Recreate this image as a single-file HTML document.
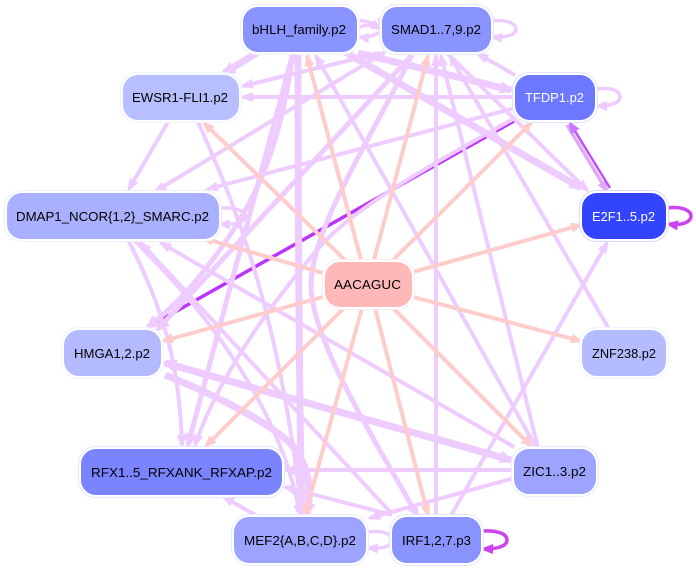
<!DOCTYPE html>
<html>
<head>
<meta charset="utf-8">
<style>
html,body{margin:0;padding:0;background:#fff}
svg{display:block}
text{font-family:"Liberation Sans",sans-serif;font-size:13px;text-anchor:middle}
.l{stroke:#eeccff;fill:none;stroke-width:4;marker-end:url(#al)}
.s{stroke:#eeccff;fill:none;stroke-width:3.500;marker-end:url(#al)}
.m{stroke:#eeccff;fill:none;stroke-width:5;marker-end:url(#alb)}
.t{stroke:#eeccff;fill:none;stroke-width:7;marker-end:url(#alb)}
.p{stroke:#ffcccc;fill:none;stroke-width:4;marker-end:url(#ap)}
</style>
</head>
<body>
<svg width="696" height="569" viewBox="0 0 696 569" xmlns="http://www.w3.org/2000/svg">
<defs>
<marker id="al" markerUnits="userSpaceOnUse" markerWidth="13" markerHeight="11" refX="10" refY="5.500" orient="auto"><path d="M0,0.500L13,5.500L0,10.500z" fill="#eeccff"/></marker>
<marker id="alb" markerUnits="userSpaceOnUse" markerWidth="15" markerHeight="13" refX="11" refY="6.500" orient="auto"><path d="M0,0L15,6.500L0,13z" fill="#eeccff"/></marker>
<marker id="ap" markerUnits="userSpaceOnUse" markerWidth="13" markerHeight="11" refX="10" refY="5.500" orient="auto"><path d="M0,0.500L13,5.500L0,10.500z" fill="#ffcccc"/></marker>
<marker id="au" markerUnits="userSpaceOnUse" markerWidth="13" markerHeight="11" refX="10" refY="5.500" orient="auto"><path d="M0,0.500L13,5.500L0,10.500z" fill="#bb33ff"/></marker>
<marker id="am" markerUnits="userSpaceOnUse" markerWidth="13" markerHeight="11" refX="10" refY="5.500" orient="auto"><path d="M0,0.500L13,5.500L0,10.500z" fill="#ddaaf5"/></marker>
<marker id="an" markerUnits="userSpaceOnUse" markerWidth="13" markerHeight="11" refX="10" refY="5.500" orient="auto"><path d="M0,0.500L13,5.500L0,10.500z" fill="#cc77ff"/></marker>
<marker id="ad" markerUnits="userSpaceOnUse" markerWidth="13" markerHeight="11" refX="10" refY="5.500" orient="auto"><path d="M0,0.500L13,5.500L0,10.500z" fill="#cc44f0"/></marker>
</defs>

<!-- dark edge -->
<path d="M514,121L150,326" stroke="#bb33ff" stroke-width="3.500" fill="none" marker-end="url(#au)"/>

<!-- lavender edges -->
<path class="t" d="M257,53L224,73"/>
<path class="l" d="M380,53L243,86"/>
<path class="l" d="M515,97L243,97"/>
<path class="l" d="M515,108L208,189"/>
<path class="l" d="M385,52L156,191"/>
<path class="l" d="M168,122L129,189"/>
<path class="t" d="M345,52L581,188"/>
<path class="t" d="M358,53L511,90"/>
<path class="l" d="M511,90L360,54"/>
<path class="l" d="M448,54L587,190"/>
<path class="l" d="M515,75L478,54"/>
<path class="l" d="M609,329L450,56"/>
<path class="l" d="M538,448L441,56"/>
<path class="l" d="M436,517L436,56"/>
<path class="l" d="M537,449L316,56"/>
<path class="l" d="M450,517L607,243"/>
<path class="t" d="M298,53C298,180 299,400 302,515"/>
<path class="m" d="M293,53C280,150 255,205 210,263C190,290 170,310 148,327"/>
<path class="m" d="M412,55L158,329"/>
<path class="m" d="M293,53L188,445"/>
<path class="l" d="M515,118C430,165 350,210 317,250C290,282 225,360 195,445"/>
<path class="m" d="M412,55C370,140 311,230 311,285C311,340 375,440 417,515"/>
<path class="l" d="M128,240C170,320 180,380 182,445"/>
<path class="l" d="M392,514L141,243"/>
<path class="l" d="M514,447L161,243"/>
<path class="l" d="M134,240C195,300 280,400 300,515"/>
<path class="l" d="M198,122C240,215 280,320 302,515"/>
<path class="t" d="M165,363L511,460"/>
<path class="t" d="M511,460L165,363"/>
<path class="t" d="M165,375C215,395 265,420 290,443C310,465 312,490 307,514"/>
<path class="l" d="M514,470L285,470"/>
<path class="l" d="M392,515L285,487"/>
<path class="l" d="M257,516L224,497"/>
<path class="l" d="M514,478L370,518"/>

<!-- pink edges -->
<path class="p" d="M361,260L307,56"/>
<path class="p" d="M374,260L428,56"/>
<path class="p" d="M345,260L204,123"/>
<path class="p" d="M393,260L531,123"/>
<path class="p" d="M413,272L581,225"/>
<path class="p" d="M323,273L203,238"/>
<path class="p" d="M323,297L163,341"/>
<path class="p" d="M413,297L581,341"/>
<path class="p" d="M344,308L206,446"/>
<path class="p" d="M393,308L531,446"/>
<path class="p" d="M362,308L305,515"/>
<path class="p" d="M375,308L428,515"/>

<!-- TFDP1 / E2F1 pair -->
<path d="M567,125L607,191" stroke="#ddaaf5" stroke-width="3.500" fill="none" marker-end="url(#am)"/>
<path d="M610,188L570,123" stroke="#c050ff" stroke-width="2.500" fill="none" marker-end="url(#an)"/>

<!-- self loops -->
<path class="s" d="M358,20C372,22 382,26 382,28"/>
<path class="s" d="M358,28C366,24 374,25 381,29"/>
<path class="s" d="M381,30C378,35 368,38 359,37"/>
<path class="s" d="M491,21C508,19 516,24 516,29C516,35 505,38 492,37"/>
<path class="s" d="M596,89C612,87 620,91 620,97C620,103 610,106 597,106"/>
<path class="s" d="M219,208C236,207 245,211 245,216C245,222 236,225 220,224"/>
<path class="s" d="M367,532C383,530 392,534 392,540C392,546 383,549 368,548"/>
<path d="M667,208C683,206 691,211 691,216C691,222 682,226 668,224" stroke="#cc44f0" stroke-width="3.500" fill="none" marker-end="url(#ad)"/>
<path d="M482,531C498,530 507,534 507,540C507,546 498,549 483,549" stroke="#cc44f0" stroke-width="3.500" fill="none" marker-end="url(#ad)"/>

<!-- nodes -->
<g stroke-width="1" fill="#fff">
<rect x="240.500" y="4.500" width="119" height="50" rx="17" stroke="#eeeeff"/>
<rect x="379.500" y="4.500" width="114" height="50" rx="17" stroke="#e4e6ff"/>
<rect x="120.500" y="72.500" width="121" height="50" rx="17" stroke="#f1f2ff"/>
<rect x="512.500" y="72.500" width="85" height="50" rx="17" stroke="#dfe2ff"/>
<rect x="579.500" y="190.500" width="89" height="51" rx="17" stroke="#d6daff"/>
<rect x="4.500" y="190.500" width="217" height="51" rx="17" stroke="#eeeeff"/>
<rect x="322.500" y="259.500" width="92" height="50" rx="17" stroke="#ffeeee"/>
<rect x="61.500" y="327.500" width="102" height="51" rx="17" stroke="#f1f2ff"/>
<rect x="579.500" y="327.500" width="89" height="51" rx="17" stroke="#f1f2ff"/>
<rect x="78.500" y="446.500" width="206" height="51" rx="17" stroke="#e4e6ff"/>
<rect x="511.500" y="446.500" width="87" height="50" rx="17" stroke="#e9ebff"/>
<rect x="231.500" y="514.500" width="137" height="51" rx="17" stroke="#e9ebff"/>
<rect x="389.500" y="514.500" width="94" height="51" rx="17" stroke="#e4e6ff"/>
</g>
<rect x="243" y="7" width="114" height="45" rx="15" fill="#8a94ff"/>
<rect x="382" y="7" width="109" height="45" rx="15" fill="#8a94ff"/>
<rect x="123" y="75" width="116" height="45" rx="15" fill="#b6bfff"/>
<rect x="515" y="75" width="80" height="45" rx="15" fill="#6b78ff"/>
<rect x="582" y="193" width="84" height="46" rx="15" fill="#3344ff"/>
<rect x="7" y="193" width="212" height="46" rx="15" fill="#a8b0ff"/>
<rect x="325" y="262" width="87" height="45" rx="15" fill="#ffb8b8"/>
<rect x="64" y="330" width="97" height="46" rx="15" fill="#b4baff"/>
<rect x="582" y="330" width="84" height="46" rx="15" fill="#b4bcff"/>
<rect x="81" y="449" width="201" height="46" rx="15" fill="#7a84ff"/>
<rect x="514" y="449" width="82" height="45" rx="15" fill="#9ca4ff"/>
<rect x="234" y="517" width="132" height="46" rx="15" fill="#9ca4ff"/>
<rect x="392" y="517" width="89" height="46" rx="15" fill="#8a94ff"/>

<text x="299" y="34" textLength="94" lengthAdjust="spacingAndGlyphs">bHLH_family.p2</text>
<text x="436" y="34" textLength="90" lengthAdjust="spacingAndGlyphs">SMAD1..7,9.p2</text>
<text x="180" y="102" textLength="96" lengthAdjust="spacingAndGlyphs">EWSR1-FLI1.p2</text>
<text x="554.500" y="102" fill="#fff" textLength="59" lengthAdjust="spacingAndGlyphs">TFDP1.p2</text>
<text x="623.500" y="221" fill="#fff" textLength="63" lengthAdjust="spacingAndGlyphs">E2F1..5.p2</text>
<text x="112.500" y="221" textLength="193" lengthAdjust="spacingAndGlyphs">DMAP1_NCOR{1,2}_SMARC.p2</text>
<text x="367.500" y="289" textLength="67" lengthAdjust="spacingAndGlyphs">AACAGUC</text>
<text x="112" y="358" textLength="76" lengthAdjust="spacingAndGlyphs">HMGA1,2.p2</text>
<text x="624" y="358" textLength="64" lengthAdjust="spacingAndGlyphs">ZNF238.p2</text>
<text x="181.500" y="477" textLength="181" lengthAdjust="spacingAndGlyphs">RFX1..5_RFXANK_RFXAP.p2</text>
<text x="554.500" y="476" textLength="63" lengthAdjust="spacingAndGlyphs">ZIC1..3.p2</text>
<text x="300" y="545" textLength="112" lengthAdjust="spacingAndGlyphs">MEF2{A,B,C,D}.p2</text>
<text x="436.500" y="545" textLength="69" lengthAdjust="spacingAndGlyphs">IRF1,2,7.p3</text>
</svg>
</body>
</html>
